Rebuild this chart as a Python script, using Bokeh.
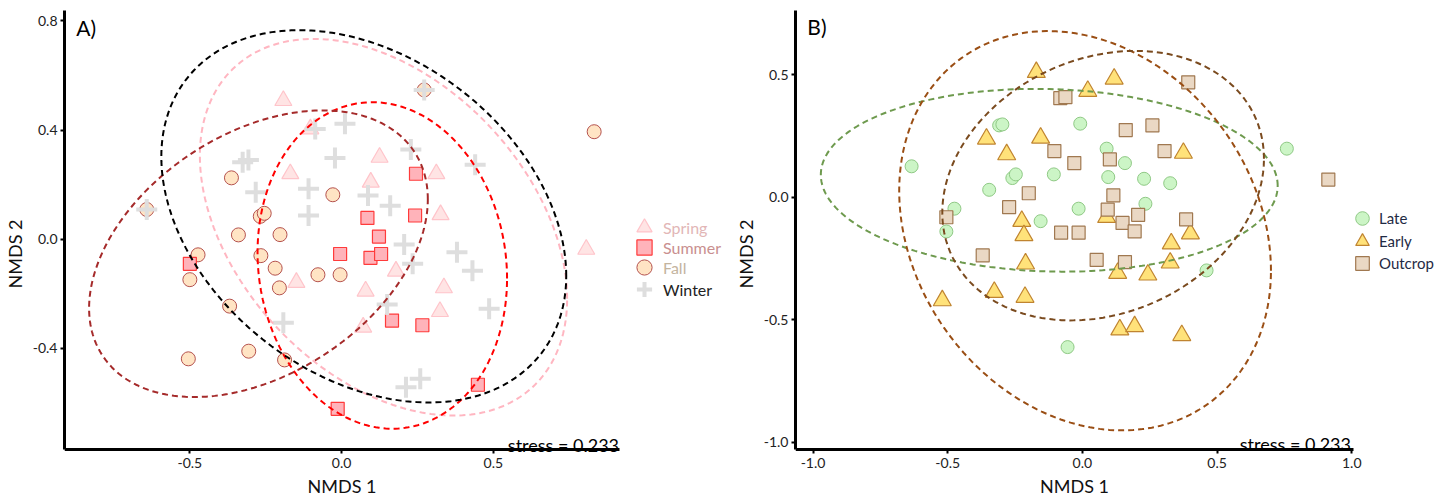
import numpy as np
from bokeh.plotting import figure
from bokeh.models import Legend, LegendItem, Label, Range1d, FixedTicker, NumeralTickFormatter
from bokeh.layouts import row
from bokeh.embed import file_html
from bokeh.resources import INLINE

# ---------------- Panel A data (seasons) ----------------
spring_x = [-0.192, -0.169, -0.103, 0.125, 0.096, 0.312, 0.326, 0.806, 0.179, 0.079, 0.337, 0.324, 0.071, -0.149]
spring_y = [0.508, 0.240, 0.404, 0.300, 0.209, 0.240, 0.090, -0.037, -0.117, -0.190, -0.178, -0.265, -0.322, -0.158]

summer_x = [-0.500, -0.013, 0.449, 0.245, 0.242, 0.085, 0.123, -0.005, 0.095, 0.130, 0.166, 0.266]
summer_y = [-0.090, -0.621, -0.533, 0.240, 0.087, 0.078, 0.010, -0.054, -0.068, -0.054, -0.298, -0.315]

fall_x = [-0.642, 0.272, 0.832, -0.363, -0.268, -0.255, -0.340, -0.203, -0.029, -0.473,
          -0.500, -0.266, -0.219, -0.205, -0.078, -0.005, -0.369, -0.306, -0.505, -0.188]
fall_y = [0.109, 0.547, 0.394, 0.225, 0.084, 0.095, 0.016, 0.017, 0.163, -0.057,
          -0.148, -0.060, -0.106, -0.178, -0.130, -0.130, -0.245, -0.410, -0.438, -0.442]

winter_x = [-0.642, 0.272, -0.326, -0.307, -0.283, -0.109, -0.109, -0.087, 0.011, -0.022, 0.228, 0.440,
            0.087, 0.160, 0.206, 0.234, 0.380, 0.431, 0.486, 0.150, 0.212, 0.259, -0.192]
winter_y = [0.109, 0.547, 0.282, 0.290, 0.172, 0.185, 0.087, 0.404, 0.423, 0.298, 0.329, 0.273,
            0.160, 0.123, -0.019, -0.090, -0.048, -0.115, -0.255, -0.239, -0.542, -0.511, -0.306]

# ellipse parameters (centre, half-extent in x and y, correlation) for Spring, Summer, Fall, Winter
ellA_cx = [0.138, 0.134, -0.274, 0.073]
ellA_cy = [0.044, -0.096, -0.053, 0.084]
ellA_w = [0.605, 0.411, 0.558, 0.667]
ellA_h = [0.690, 0.598, 0.525, 0.682]
ellA_r = [-0.38, -0.08, 0.38, -0.32]
ellA_colors = ["#FFB6C1", "#FF0000", "#A52A2A", "#000000"]

xA_ticks = [-0.5, 0.0, 0.5]
yA_ticks = [-0.4, 0.0, 0.4, 0.8]
xA_axis = (-0.913, 0.916)
yA_axis = (-0.770, 0.838)

# ---------------- Panel B data (stages) ----------------
late_x = [-0.634, -0.475, -0.505, -0.309, -0.297, -0.346, -0.260, -0.247, -0.155, -0.106, -0.014,
          -0.008, -0.055, 0.090, 0.158, 0.096, 0.229, 0.326, 0.234, 0.759, 0.461]
late_y = [0.126, -0.047, -0.140, 0.293, 0.297, 0.030, 0.078, 0.093, -0.098, 0.093, -0.047,
          0.300, -0.612, 0.198, 0.139, 0.082, 0.075, 0.057, -0.027, 0.198, -0.299]

early_x = [-0.171, 0.020, 0.118, 0.375, -0.356, -0.155, -0.281, -0.225, -0.217, -0.211, -0.327,
           -0.213, -0.520, 0.131, 0.243, 0.326, 0.139, 0.194, 0.369, 0.401, 0.330, 0.090]
early_y = [0.510, 0.433, 0.483, 0.180, 0.238, 0.242, 0.174, -0.098, -0.156, -0.272, -0.388,
           -0.408, -0.422, -0.310, -0.317, -0.268, -0.541, -0.528, -0.564, -0.149, -0.190, -0.082]

outcrop_x = [-0.082, -0.063, -0.104, -0.030, -0.199, -0.272, -0.505, -0.079, -0.014, -0.370, 0.393, 0.161,
             0.260, 0.305, 0.102, 0.115, 0.094, 0.207, 0.149, 0.194, 0.385, 0.913, 0.053, 0.158]
outcrop_y = [0.404, 0.408, 0.188, 0.139, 0.016, -0.041, -0.082, -0.145, -0.145, -0.238, 0.469, 0.274,
             0.293, 0.188, 0.154, 0.007, -0.051, -0.072, -0.105, -0.140, -0.091, 0.072, -0.256, -0.265]

# ellipse parameters for Late, Early, Outcrop
ellB_cx = [-0.123, 0.010, 0.077]
ellB_cy = [0.069, -0.137, 0.047]
ellB_w = [0.848, 0.690, 0.597]
ellB_h = [0.373, 0.815, 0.550]
ellB_r = [-0.06, -0.20, 0.20]
ellB_colors = ["#6E9A4E", "#9A4E14", "#7A4A1E"]

xB_ticks = [-1.0, -0.5, 0.0, 0.5, 1.0]
yB_ticks = [-1.0, -0.5, 0.0, 0.5]
xB_axis = (-1.065, 1.005)
yB_axis = (-1.030, 0.762)

stress_text = "stress = 0.233"

FONT = "Lato"


def ellipse_pts(cx, cy, w, h, r, n=241):
    t = np.linspace(0, 2 * np.pi, n)
    x = cx + w * np.cos(t)
    y = cy + h * (r * np.cos(t) + np.sqrt(1 - r * r) * np.sin(t))
    return x, y


def style(p, xt, yt, xb, yb):
    p.xgrid.visible = False
    p.ygrid.visible = False
    p.outline_line_color = None
    p.xaxis.ticker = FixedTicker(ticks=xt)
    p.yaxis.ticker = FixedTicker(ticks=yt)
    p.xaxis.bounds = xb
    p.yaxis.bounds = yb
    p.xaxis.fixed_location = yb[0]
    for ax in (p.xaxis[0], p.yaxis[0]):
        ax.formatter = NumeralTickFormatter(format="0.0")
        ax.axis_line_width = 3
        ax.axis_line_color = "black"
        ax.major_tick_line_width = 2
        ax.major_tick_line_color = "black"
        ax.major_tick_out = 4
        ax.major_tick_in = 0
        ax.minor_tick_line_color = None
        ax.major_label_text_font = FONT
        ax.major_label_text_font_size = "14px"
        ax.major_label_text_color = "#222222"
        ax.axis_label_text_font = FONT
        ax.axis_label_text_font_size = "18px"
        ax.axis_label_text_font_style = "normal"
        ax.axis_label_text_color = "#111111"
    p.xaxis.major_label_standoff = 5
    p.xaxis.axis_label_standoff = 3
    p.yaxis.major_label_standoff = 3
    p.yaxis.axis_label_standoff = 4
    p.xaxis.axis_label = "NMDS 1"
    p.yaxis.axis_label = "NMDS 2"


def add_legend(p, rend, label, gx, gy, G, fl, fb, color, fs="16px"):
    leg = Legend(items=[LegendItem(label=label, renderers=[rend])],
                 location=(gx - G / 2 - fl, fb - (gy + G / 2)),
                 glyph_width=G, glyph_height=G, label_standoff=0,
                 label_text_font=FONT, label_text_font_size=fs,
                 label_text_color=color, padding=0, margin=0, spacing=0,
                 border_line_color=None, background_fill_alpha=0)
    p.add_layout(leg)


# pixel geometry: frame from y=10 to the figure bottom
FIG_H = 497
FRAME_BOTTOM = FIG_H

# ---------------- Panel A ----------------
pA = figure(width=731, height=FIG_H, x_range=Range1d(-0.913, 1.268), y_range=Range1d(-0.946, 0.838),
            output_backend="svg", toolbar_location=None,
            min_border_left=57, min_border_right=5, min_border_top=10, min_border_bottom=0)
style(pA, xA_ticks, yA_ticks, xA_axis, yA_axis)

r_fall = pA.scatter(fall_x, fall_y, marker="circle", size=14, fill_color="#FFE4C4",
                    line_color="#B5524E", line_width=1)
r_spring = pA.scatter(spring_x, spring_y, marker="triangle", size=17, fill_color="#FFE4E4",
                      line_color="#FFC4CA", line_width=1.2)
r_summer = pA.scatter(summer_x, summer_y, marker="square", size=13, fill_color="#FFB3BA",
                      line_color="#FF3B3B", line_width=1.2)
r_winter = pA.scatter(winter_x, winter_y, marker="cross", size=21, line_color="#DEDEDE", line_width=4)

for cx, cy, w, h, r, c in zip(ellA_cx, ellA_cy, ellA_w, ellA_h, ellA_r, ellA_colors):
    ex, ey = ellipse_pts(cx, cy, w, h, r)
    pA.line(ex, ey, line_color=c, line_width=2, line_dash="6 4")

pA.add_layout(Label(x=-0.874, y=0.823, text="A)", text_font=FONT, text_font_size="21px",
                    text_baseline="top", text_color="black"))
pA.add_layout(Label(x=0.914, y=-0.752, text=stress_text, text_font=FONT, text_font_size="18px",
                    text_align="right", text_baseline="alphabetic", text_color="black"))

flA = 65
GA = 38
add_legend(pA, r_spring, "Spring", 645, 227, GA, flA, FRAME_BOTTOM, "#E2B6B6")
add_legend(pA, r_summer, "Summer", 645, 247, GA, flA, FRAME_BOTTOM, "#C98F8F")
add_legend(pA, r_fall, "Fall", 645, 267, GA, flA, FRAME_BOTTOM, "#C4B49E")
add_legend(pA, r_winter, "Winter", 645, 289, GA, flA, FRAME_BOTTOM, "#222222")

# ---------------- Panel B ----------------
pB = figure(width=707, height=FIG_H, x_range=Range1d(-1.065, 1.322), y_range=Range1d(-1.226, 0.762),
            output_backend="svg", toolbar_location=None,
            min_border_left=59, min_border_right=0, min_border_top=10, min_border_bottom=0)
style(pB, xB_ticks, yB_ticks, xB_axis, yB_axis)

r_late = pB.scatter(late_x, late_y, marker="circle", size=13, fill_color="#CCF5C6",
                    line_color="#8FC985", line_width=1)
r_early = pB.scatter(early_x, early_y, marker="triangle", size=18, fill_color="#FFE27A",
                     line_color="#C08430", line_width=1.2)
r_outcrop = pB.scatter(outcrop_x, outcrop_y, marker="square", size=13, fill_color="#EAD8C4",
                       line_color="#A07850", line_width=1.2)

for cx, cy, w, h, r, c in zip(ellB_cx, ellB_cy, ellB_w, ellB_h, ellB_r, ellB_colors):
    ex, ey = ellipse_pts(cx, cy, w, h, r)
    pB.line(ex, ey, line_color=c, line_width=2, line_dash="6 4")

pB.add_layout(Label(x=-1.021, y=0.746, text="B)", text_font=FONT, text_font_size="21px",
                    text_baseline="top", text_color="black"))
pB.add_layout(Label(x=0.997, y=-1.009, text=stress_text, text_font=FONT, text_font_size="18px",
                    text_align="right", text_baseline="alphabetic", text_color="black"))

flB = 798
GB = 34
add_legend(pB, r_late, "Late", 1365, 218, GB, flB, FRAME_BOTTOM, "#1F2A44", "15px")
add_legend(pB, r_early, "Early", 1365, 241, GB, flB, FRAME_BOTTOM, "#1F2A44", "15px")
add_legend(pB, r_outcrop, "Outcrop", 1365, 263, GB, flB, FRAME_BOTTOM, "#1F2A44", "15px")

layout = row(pA, pB)
open("out.html", "w").write(file_html(layout, INLINE))
